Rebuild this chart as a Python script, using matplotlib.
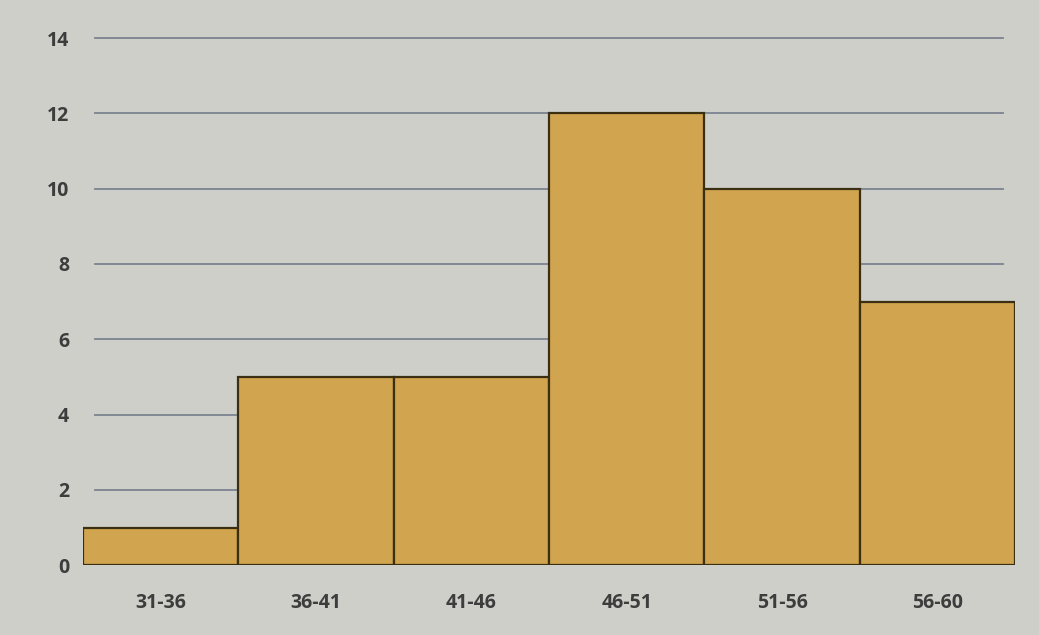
import matplotlib
matplotlib.use("Agg")
import matplotlib.pyplot as plt
import numpy as np

# class intervals and frequencies
bins = ["31-36", "36-41", "41-46", "46-51", "51-56", "56-60"]
counts = [1, 5, 5, 12, 10, 7]
yticks = [0, 2, 4, 6, 8, 10, 12, 14]

bg = "#cfcfca"
plt.rcParams["font.family"] = ["Open Sans", "DejaVu Sans"]

fig = plt.figure(figsize=(10.39, 6.35), dpi=100)
fig.patch.set_facecolor(bg)
ax = fig.add_axes([0.080, 0.110, 0.897, 0.830])
ax.set_facecolor(bg)

x = np.arange(len(bins))
ax.bar(x, counts, width=1.0, color="#d1a44f", edgecolor="#3b2f12",
       linewidth=1.6, zorder=3)

ax.set_xlim(-0.5, len(bins) - 0.5)
ax.set_ylim(0, 14)
ax.set_yticks(yticks)
ax.set_xticks(x)
ax.set_xticklabels(bins)
for yv in yticks[1:]:
    ax.axhline(yv, xmin=0.013, xmax=0.987, color="#7c8291", linewidth=1.3,
               zorder=1, clip_on=False)

for s in ax.spines.values():
    s.set_visible(False)
ax.tick_params(length=0, labelsize=14, colors="#3d3d3d")
ax.tick_params(axis="x", pad=20)
ax.tick_params(axis="y", pad=10)
for lab in ax.get_xticklabels() + ax.get_yticklabels():
    lab.set_fontweight("bold")

fig.savefig("out.png", dpi=100, facecolor=bg)
